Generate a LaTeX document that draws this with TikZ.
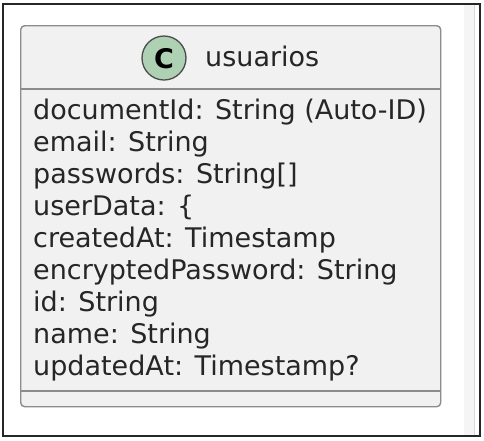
\documentclass[tikz,border=0pt]{standalone}
\usepackage{fontspec}
\setmainfont{DejaVu Sans}
\begin{document}
\begin{tikzpicture}[x=1pt,y=-1pt,
  attr/.style={anchor=base west,inner sep=0pt,font=\fontsize{27}{32}\selectfont,text=black!85},
  boxline/.style={draw=black!45,line width=1.4pt}]
\useasboundingbox (0,0) rectangle (484,440);
\fill[white] (0,0) rectangle (484,440);
\fill[black!4] (464,4) rectangle (474,436);
\draw[black!15,line width=0.8pt] (474,4) -- (474,436);
\draw[black!85,line width=1.3pt] (3,4) rectangle (480,436);
\node[boxline,fill=black!5.5,rounded corners=4pt,minimum width=420pt,minimum height=381pt,inner sep=0pt,anchor=north west] (box) at (20,25) {};
\draw[boxline] (20,89) coordinate (s1) -- (440,89) coordinate (s2);
\draw[boxline] (20,391) coordinate (s3) -- (440,391) coordinate (s4);
\node[circle,draw=black!70,line width=1.3pt,fill={rgb,255:red,173;green,209;blue,178},minimum size=44pt,inner sep=0pt] (circ) at (164,58) {};
\node[inner sep=0pt,font=\fontsize{27}{27}\bfseries\selectfont] (cl) at (164,59) {C};
\node[attr] (title) at (205,66) {usuarios};
\node[attr] (a1) at (33,119) {documentId: String (Auto-ID)};
\node[attr] (a2) at (33,151) {email: String};
\node[attr] (a3) at (33,183) {passwords: String[]};
\node[attr] (a4) at (33,215) {userData: \{};
\node[attr] (a5) at (33,247) {createdAt: Timestamp};
\node[attr] (a6) at (33,279) {encryptedPassword: String};
\node[attr] (a7) at (33,311) {id: String};
\node[attr] (a8) at (33,343) {name: String};
\node[attr] (a9) at (33,375) {updatedAt: Timestamp?};
\end{tikzpicture}
\end{document}
